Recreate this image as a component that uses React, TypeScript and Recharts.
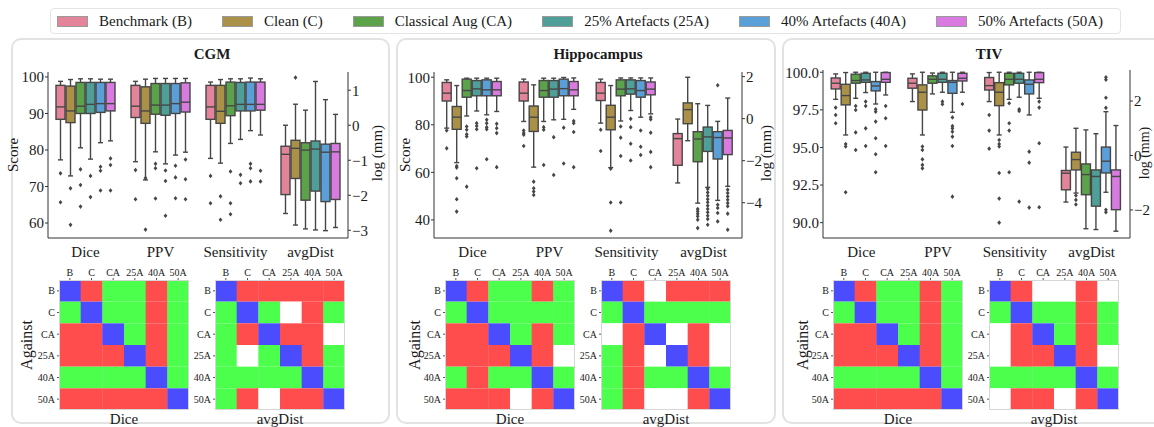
import React from "react";
import { ComposedChart, BarChart, Bar, XAxis, YAxis, Cell } from "recharts";

const FONT =
  '"Liberation Serif", "Times New Roman", Tinos, "Nimbus Roman", "DejaVu Serif", "Noto Serif", Times, serif';

const groups = ["B", "C", "CA", "25A", "40A", "50A"];
const groupNames = [
  "Benchmark (B)",
  "Clean (C)",
  "Classical Aug (CA)",
  "25% Artefacts (25A)",
  "40% Artefacts (40A)",
  "50% Artefacts (50A)",
];
const groupColors = ["#e3849a", "#aa9147", "#5ca24b", "#4f9f98", "#5a9fd7", "#d87adf"];
const metrics = ["Dice", "PPV", "Sensitivity", "avgDist"];

// [lower whisker, q1, median, q3, upper whisker, outliers]
type Box = [number, number, number, number, number, number[]];

const cgmDice: Box[] = [
  [77.3, 88.4, 91.8, 97.7, 98.8, [73.6, 65.7]],
  [72.9, 87.5, 90.7, 97.5, 99.3, [69.5, 59.5]],
  [80.6, 90.0, 92.0, 98.5, 99.5, [74.7, 70.4, 64.5]],
  [77.5, 90.0, 92.5, 98.5, 99.5, [72.9, 67.1]],
  [82.0, 90.3, 92.7, 98.5, 99.4, [75.4, 74.3, 68.9]],
  [82.5, 90.7, 92.7, 98.5, 99.4, [77.7, 75.9, 68.9]],
];
const cgmPPV: Box[] = [
  [76.8, 88.9, 92.0, 97.7, 98.8, [74.5, 66.5]],
  [71.8, 87.3, 90.7, 97.3, 99.4, [72.3, 58.2]],
  [79.5, 89.8, 92.3, 98.2, 99.6, [76.2, 75.0, 66.7]],
  [76.2, 89.5, 92.3, 98.2, 99.6, [74.4, 71.5, 62.0]],
  [78.6, 90.0, 92.7, 98.2, 99.6, [75.7, 72.5, 66.8]],
  [79.4, 90.4, 93.1, 98.4, 99.6, [77.4, 72.0, 66.5]],
];
const cgmSens: Box[] = [
  [77.7, 88.4, 91.8, 97.7, 98.6, [72.9, 65.4]],
  [76.4, 87.3, 90.6, 97.7, 99.3, [67.3, 60.9]],
  [81.8, 89.4, 92.1, 98.6, 99.5, [74.1, 65.4, 62.4]],
  [82.9, 90.7, 92.5, 98.5, 99.5, [73.2, 70.9]],
  [85.3, 90.7, 92.5, 98.6, 99.7, [76.2, 75.0, 71.4]],
  [84.1, 90.9, 92.5, 98.6, 99.5, [74.3, 71.4]],
];
const cgmDist: Box[] = [
  [-2.52, -1.98, -0.83, -0.6, 0.0, []],
  [-2.85, -1.52, -0.66, -0.43, 0.6, [1.36]],
  [-2.96, -2.14, -0.71, -0.5, 0.43, []],
  [-2.99, -1.88, -0.68, -0.45, 1.25, []],
  [-3.01, -2.18, -0.77, -0.54, 0.73, []],
  [-2.92, -2.12, -0.76, -0.52, 0.31, []],
];

const hipDice: Box[] = [
  [78.6, 90.0, 93.3, 97.8, 98.9, [77.6, 70.1]],
  [64.1, 78.1, 83.2, 87.7, 96.5, [62.7, 62.0, 57.5, 48.7, 43.5]],
  [83.7, 91.6, 94.4, 99.2, 99.6, [79.3, 77.9, 76.0, 75.1, 54.0]],
  [85.8, 92.2, 95.1, 98.6, 99.6, [80.7, 79.5, 78.1, 61.7]],
  [84.2, 92.2, 94.7, 98.9, 99.6, [82.1, 80.7, 79.0, 78.1, 65.5]],
  [85.6, 92.2, 94.7, 98.2, 99.6, [80.4, 78.6, 76.5, 62.2]],
];
const hipPPV: Box[] = [
  [81.4, 90.0, 93.3, 98.0, 99.2, [77.6, 76.5, 75.8, 71.1]],
  [62.2, 77.2, 83.2, 87.9, 96.8, [56.1, 53.3, 51.9, 50.5]],
  [81.4, 91.6, 94.4, 98.6, 99.6, [79.0, 77.9, 63.1]],
  [82.1, 91.6, 95.0, 98.6, 99.6, [74.8, 58.9]],
  [82.3, 92.2, 95.2, 99.2, 99.9, [78.8, 63.7]],
  [86.5, 92.2, 94.7, 98.2, 99.7, [81.6, 80.7, 77.0, 62.2]],
];
const hipSens: Box[] = [
  [80.7, 90.2, 93.3, 97.8, 99.2, [77.9, 69.0]],
  [62.0, 77.9, 83.2, 88.2, 96.5, [61.5, 47.3, 35.5]],
  [81.6, 92.2, 95.0, 98.9, 99.7, [79.3, 74.6, 66.9, 47.3]],
  [86.0, 92.9, 95.1, 98.9, 99.7, [82.5, 79.0, 72.0, 65.0]],
  [83.2, 91.6, 94.4, 98.6, 99.7, [77.6, 70.8, 67.3]],
  [84.6, 92.6, 95.0, 98.0, 99.7, [83.2, 82.3, 76.7, 68.6, 62.2]],
];
const hipDist: Box[] = [
  [-3.06, -2.22, -0.95, -0.71, -0.02, []],
  [-1.05, -0.24, 0.43, 0.75, 1.97, []],
  [-4.02, -2.05, -0.97, -0.62, 0.71, [-4.3, -4.41, -4.52, -4.65, -4.81, -5.21]],
  [-3.27, -1.56, -0.87, -0.4, 0.63, [-3.35, -3.51, -3.67, -3.83, -3.98, -4.14, -4.3, -4.46, -4.62, -4.78, -5.05]],
  [-3.89, -1.92, -0.9, -0.62, -0.13, [1.59, -4.1, -4.25, -4.49, -4.89]],
  [-3.22, -1.71, -0.92, -0.56, 0.98, [-3.38, -3.54, -3.7, -3.86, -4.02, -4.17, -4.52, -5.29]],
];

const tivDice: Box[] = [
  [98.2, 98.89, 99.27, 99.62, 99.89, [97.65, 97.16, 96.61]],
  [95.83, 97.83, 98.45, 99.2, 99.98, [95.23, 95.06, 92.02]],
  [98.27, 99.27, 99.45, 99.87, 100.0, [97.76, 97.49, 96.0, 94.83]],
  [98.65, 99.33, 99.49, 99.93, 100.0, [98.05, 97.76, 96.27, 95.1]],
  [97.89, 98.76, 99.09, 99.38, 100.0, [97.54, 97.38, 96.72, 95.61, 94.55, 93.35]],
  [98.49, 99.33, 99.53, 99.98, 100.0, [97.76, 96.94, 95.1]],
];
const tivPPV: Box[] = [
  [98.05, 98.94, 99.27, 99.6, 99.89, []],
  [95.83, 97.49, 98.67, 99.16, 100.0, [95.06, 94.83, 94.21, 93.84, 93.61]],
  [98.56, 99.27, 99.53, 99.76, 99.95, []],
  [98.67, 99.33, 99.53, 99.93, 100.0, [98.05, 97.87]],
  [97.34, 98.6, 99.33, 99.45, 100.0, [97.0, 96.43, 96.27, 96.05, 95.72, 95.1, 91.73]],
  [98.67, 99.42, 99.6, 99.93, 100.0, [97.89]],
];
const tivSens: Box[] = [
  [98.05, 98.82, 99.11, 99.65, 99.98, [97.16, 96.12, 94.92]],
  [95.83, 97.78, 98.67, 99.31, 100.0, [95.5, 95.23, 95.06, 93.3, 91.6, 90.0]],
  [98.2, 99.16, 99.53, 99.93, 100.0, [97.94, 96.61, 96.12, 93.35]],
  [98.34, 99.27, 99.53, 99.93, 100.0, [97.54, 97.43, 91.4]],
  [97.16, 98.56, 99.2, 99.49, 100.0, [94.72, 93.99, 91.0]],
  [98.27, 99.31, 99.53, 99.98, 100.0, [98.05, 97.65, 95.28, 91.02]],
];
const tivDist: Box[] = [
  [-1.71, -1.26, -0.65, -0.55, 0.31, []],
  [-1.38, -0.53, -0.15, 0.12, 1.0, [-1.47, -1.63, -1.8]],
  [-2.69, -1.44, -0.7, -0.31, 0.94, []],
  [-2.72, -1.86, -0.77, -0.53, 0.8, []],
  [-1.35, -0.64, -0.21, 0.31, 1.61, [2.87, 2.78, 2.12, 1.75, -1.99, -2.08]],
  [-2.78, -1.99, -0.77, -0.53, 1.1, []],
];

// significance grids: D = diagonal, R = worse, G = better, W = not significant
const cgmDiceSig = ["DRGGRG", "GDGGRG", "RRDGRG", "RRRDRG", "GGGGDG", "RRRRRD"];
const cgmDistSig = ["DRRRRR", "GDGWRG", "GRDRRW", "GWGDRG", "GGGGDG", "GRWRRD"];
const hipDiceSig = ["DRGGRG", "GDGGGG", "RRDGRG", "RRRDRW", "GRGGDG", "RRRWRD"];
const hipDistSig = ["DRWRRR", "GDGGGG", "WRDWRW", "GRWDRW", "GRGGDG", "GRWWRD"];
const tivDiceSig = ["DRGGRG", "GDGGRG", "RRDGRG", "RRRDRG", "GGGGDG", "RRRRRD"];
const tivDistSig = ["DRWWRW", "GDGGRG", "WRDGRG", "WRRDRW", "GGGGDG", "WRRWRD"];

const sigColors: Record<string, string> = {
  D: "#4c4cff",
  R: "#ff4c4c",
  G: "#4cff4c",
  W: "#ffffff",
};

const EDGE = "#464646";
const minus = (v: number) => (v < 0 ? "\u2212" + Math.abs(v) : String(v));

function buildRows(sets: Box[][]) {
  return metrics.map((m, mi) => {
    const row: any = { metric: m, boxes: sets[mi] };
    const side = mi === 3 ? "r" : "l";
    sets[mi].forEach((b, gi) => {
      row[side + gi] = [b[1], b[3]];
    });
    return row;
  });
}

function renderBox(p: any, side: string, gi: number) {
  const { x, y, width, height, payload } = p;
  const val = payload ? payload[side + gi] : null;
  if (!val || !Number.isFinite(y) || !Number.isFinite(height) || height <= 0) return <g />;
  const [lo, q1, med, q3, hi, outs] = payload.boxes[gi] as Box;
  const k = height / (q3 - q1);
  const py = (v: number) => y + (q3 - v) * k;
  const cx = x + width / 2;
  const cap = width * 0.25;
  return (
    <g>
      <line x1={cx} x2={cx} y1={py(hi)} y2={y} stroke={EDGE} strokeWidth={1.4} />
      <line x1={cx} x2={cx} y1={y + height} y2={py(lo)} stroke={EDGE} strokeWidth={1.4} />
      <line x1={cx - cap} x2={cx + cap} y1={py(hi)} y2={py(hi)} stroke={EDGE} strokeWidth={1.4} />
      <line x1={cx - cap} x2={cx + cap} y1={py(lo)} y2={py(lo)} stroke={EDGE} strokeWidth={1.4} />
      <rect x={x + 0.5} y={y} width={width - 1} height={height} fill={groupColors[gi]} stroke={EDGE} strokeWidth={1.4} />
      <line x1={x + 0.5} x2={x + width - 0.5} y1={py(med)} y2={py(med)} stroke={EDGE} strokeWidth={1.4} />
      {outs.map((o, i) => {
        const oy = py(o);
        return (
          <polygon
            key={i}
            points={`${cx},${oy - 2.3} ${cx + 1.9},${oy} ${cx},${oy + 2.3} ${cx - 1.9},${oy}`}
            fill={EDGE}
          />
        );
      })}
    </g>
  );
}

interface BoxChartProps {
  sets: Box[][];
  plot: { l: number; r: number; t: number; b: number };
  leftDomain: [number, number];
  leftTicks: number[];
  leftFmt?: (v: number) => string;
  rightDomain: [number, number];
  rightTicks: number[];
}

const BoxChart: React.FC<BoxChartProps> = ({ sets, plot, leftDomain, leftTicks, leftFmt, rightDomain, rightTicks }) => {
  const rows = buildRows(sets);
  const yw = 40;
  const xh = 25;
  const mt = 4;
  const tick = { fontSize: 15, fill: "#1a1a1a", fontFamily: FONT };
  return (
    <div style={{ position: "absolute", left: plot.l - yw, top: plot.t - mt }}>
      <ComposedChart
        width={plot.r - plot.l + 2 * yw}
        height={plot.b - plot.t + mt + xh}
        data={rows}
        margin={{ top: mt, right: 0, bottom: 0, left: 0 }}
        barCategoryGap="10%"
        barGap={0}
      >
        <XAxis xAxisId="l" dataKey="metric" height={xh} tickLine={false} axisLine={{ stroke: "#333" }} tick={tick} interval={0} />
        <XAxis xAxisId="r" dataKey="metric" hide />
        <YAxis
          yAxisId="l"
          orientation="left"
          width={yw}
          type="number"
          domain={leftDomain}
          ticks={leftTicks}
          allowDataOverflow
          interval={0}
          tickFormatter={leftFmt}
          tick={tick}
          tickSize={3}
          tickMargin={1}
          axisLine={{ stroke: "#333" }}
          tickLine={{ stroke: "#333" }}
        />
        <YAxis
          yAxisId="r"
          orientation="right"
          width={yw}
          type="number"
          domain={rightDomain}
          ticks={rightTicks}
          allowDataOverflow
          interval={0}
          tickFormatter={minus}
          tick={tick}
          tickSize={3}
          tickMargin={1}
          axisLine={{ stroke: "#333" }}
          tickLine={{ stroke: "#333" }}
        />
        {groups.map((g, gi) => (
          <Bar
            key={"l" + g}
            xAxisId="l"
            yAxisId="l"
            dataKey={"l" + gi}
            isAnimationActive={false}
            shape={(p: any) => renderBox(p, "l", gi)}
          />
        ))}
        {groups.map((g, gi) => (
          <Bar
            key={"r" + g}
            xAxisId="r"
            yAxisId="r"
            dataKey={"r" + gi}
            isAnimationActive={false}
            shape={(p: any) => renderBox(p, "r", gi)}
          />
        ))}
      </ComposedChart>
    </div>
  );
};

const Heatmap: React.FC<{ sig: string[]; left: number; top: number }> = ({ sig, left, top }) => {
  const yw = 30;
  const xh = 17;
  const size = 130;
  const data = groups.map((g) => {
    const row: any = { col: g };
    groups.forEach((_, ri) => {
      row["r" + ri] = 1;
    });
    return row;
  });
  const tick = { fontSize: 10, fill: "#1a1a1a", fontFamily: FONT };
  return (
    <div style={{ position: "absolute", left: left - yw, top: top - xh }}>
      <BarChart width={size + yw} height={size + xh} data={data} margin={{ top: 0, right: 0, bottom: 0, left: 0 }} barCategoryGap={0} barGap={0}>
        <XAxis dataKey="col" orientation="top" height={xh} tick={tick} interval={0} tickSize={2} tickMargin={2} axisLine={false} tickLine={{ stroke: "#555" }} />
        <YAxis
          type="number"
          domain={[0, 6]}
          reversed
          ticks={[0.5, 1.5, 2.5, 3.5, 4.5, 5.5]}
          interval={0}
          allowDataOverflow
          tickFormatter={(v: number) => groups[Math.floor(v)]}
          width={yw}
          tick={tick}
          tickSize={2}
          tickMargin={2}
          axisLine={false}
          tickLine={{ stroke: "#555" }}
        />
        {groups.map((g, ri) => (
          <Bar key={g} dataKey={"r" + ri} stackId="s" isAnimationActive={false}>
            {groups.map((c, ci) => (
              <Cell key={c} fill={sigColors[sig[ri][ci]]} />
            ))}
          </Bar>
        ))}
      </BarChart>
      <div
        style={{
          position: "absolute",
          left: yw,
          top: xh,
          width: size,
          height: size,
          boxSizing: "border-box",
          border: "1px solid #d6d6d6",
          pointerEvents: "none",
        }}
      />
    </div>
  );
};

const Txt: React.FC<{ x: number; y: number; rot?: boolean; bold?: boolean; size?: number; children: React.ReactNode }> = ({
  x,
  y,
  rot,
  bold,
  size = 15,
  children,
}) => (
  <div
    style={{
      position: "absolute",
      left: x,
      top: y,
      transform: `translate(-50%, -50%)${rot ? " rotate(-90deg)" : ""}`,
      whiteSpace: "nowrap",
      fontSize: size,
      fontWeight: bold ? 700 : 400,
      lineHeight: 1,
    }}
  >
    {children}
  </div>
);

const panelStyle = (left: number, width: number): React.CSSProperties => ({
  position: "absolute",
  left,
  top: 38,
  width,
  height: 386,
  boxSizing: "border-box",
  border: "2px solid #e2e2e2",
  borderRadius: 10,
});

const cgmTicks = [60, 70, 80, 90, 100];
const hipTicks = [40, 60, 80, 100];
const tivTicks = [90, 92.5, 95, 97.5, 100];

export default function App() {
  return (
    <div
      style={{
        position: "absolute",
        left: 0,
        top: 0,
        width: 1154,
        height: 427,
        overflow: "hidden",
        background: "#fff",
        fontFamily: FONT,
        color: "#1a1a1a",
      }}
    >
      <div
        style={{
          position: "absolute",
          left: 50,
          top: 8,
          width: 1071,
          height: 26,
          boxSizing: "border-box",
          border: "1px solid #e4e4e4",
          borderRadius: 4,
          display: "flex",
          alignItems: "center",
          paddingLeft: 6,
          gap: 30,
        }}
      >
        {groups.map((g, i) => (
          <div key={g} style={{ display: "flex", alignItems: "center", gap: 11 }}>
            <span
              style={{
                display: "inline-block",
                width: 31,
                height: 11,
                background: groupColors[i],
                border: "1px solid #9a9a9a",
                boxSizing: "border-box",
              }}
            />
            <span style={{ fontSize: 15 }}>{groupNames[i]}</span>
          </div>
        ))}
      </div>

      <div style={panelStyle(11, 379)} />
      <div style={panelStyle(396, 380)} />
      <div style={panelStyle(782, 390)} />

      <Txt x={212} y={54} bold>CGM</Txt>
      <Txt x={598} y={54} bold>Hippocampus</Txt>
      <Txt x={989} y={54} bold>TIV</Txt>

      <BoxChart
        sets={[cgmDice, cgmPPV, cgmSens, cgmDist]}
        plot={{ l: 48, r: 348, t: 72, b: 238 }}
        leftDomain={[55.9, 101.36]}
        leftTicks={cgmTicks}
        rightDomain={[-3.22, 1.52]}
        rightTicks={[-3, -2, -1, 0, 1]}
      />
      <BoxChart
        sets={[hipDice, hipPPV, hipSens, hipDist]}
        plot={{ l: 434, r: 742, t: 72, b: 238 }}
        leftDomain={[32.4, 102.2]}
        leftTicks={hipTicks}
        rightDomain={[-5.68, 2.22]}
        rightTicks={[-4, -2, 0, 2]}
      />
      <BoxChart
        sets={[tivDice, tivPPV, tivSens, tivDist]}
        plot={{ l: 823, r: 1130, t: 70, b: 238 }}
        leftDomain={[88.98, 100.15]}
        leftTicks={tivTicks}
        leftFmt={(v: number) => v.toFixed(1)}
        rightDomain={[-3.03, 3.14]}
        rightTicks={[-2, 0, 2]}
      />

      <Txt x={13} y={155} rot>Score</Txt>
      <Txt x={405} y={155} rot>Score</Txt>
      <Txt x={377} y={153} rot>log (mm)</Txt>
      <Txt x={766} y={153} rot>log (mm)</Txt>
      <Txt x={1145} y={153} rot size={14}>log (mm)</Txt>

      <Heatmap sig={cgmDiceSig} left={59} top={280} />
      <Heatmap sig={cgmDistSig} left={215} top={280} />
      <Heatmap sig={hipDiceSig} left={445} top={280} />
      <Heatmap sig={hipDistSig} left={601} top={280} />
      <Heatmap sig={tivDiceSig} left={833} top={280} />
      <Heatmap sig={tivDistSig} left={989} top={280} />

      <Txt x={27} y={345} rot size={16}>Against</Txt>
      <Txt x={415} y={345} rot size={16}>Against</Txt>
      <Txt x={803} y={345} rot size={16}>Against</Txt>

      <Txt x={124} y={419}>Dice</Txt>
      <Txt x={280} y={419}>avgDist</Txt>
      <Txt x={510} y={419}>Dice</Txt>
      <Txt x={666} y={419}>avgDist</Txt>
      <Txt x={898} y={419}>Dice</Txt>
      <Txt x={1054} y={419}>avgDist</Txt>
    </div>
  );
}
